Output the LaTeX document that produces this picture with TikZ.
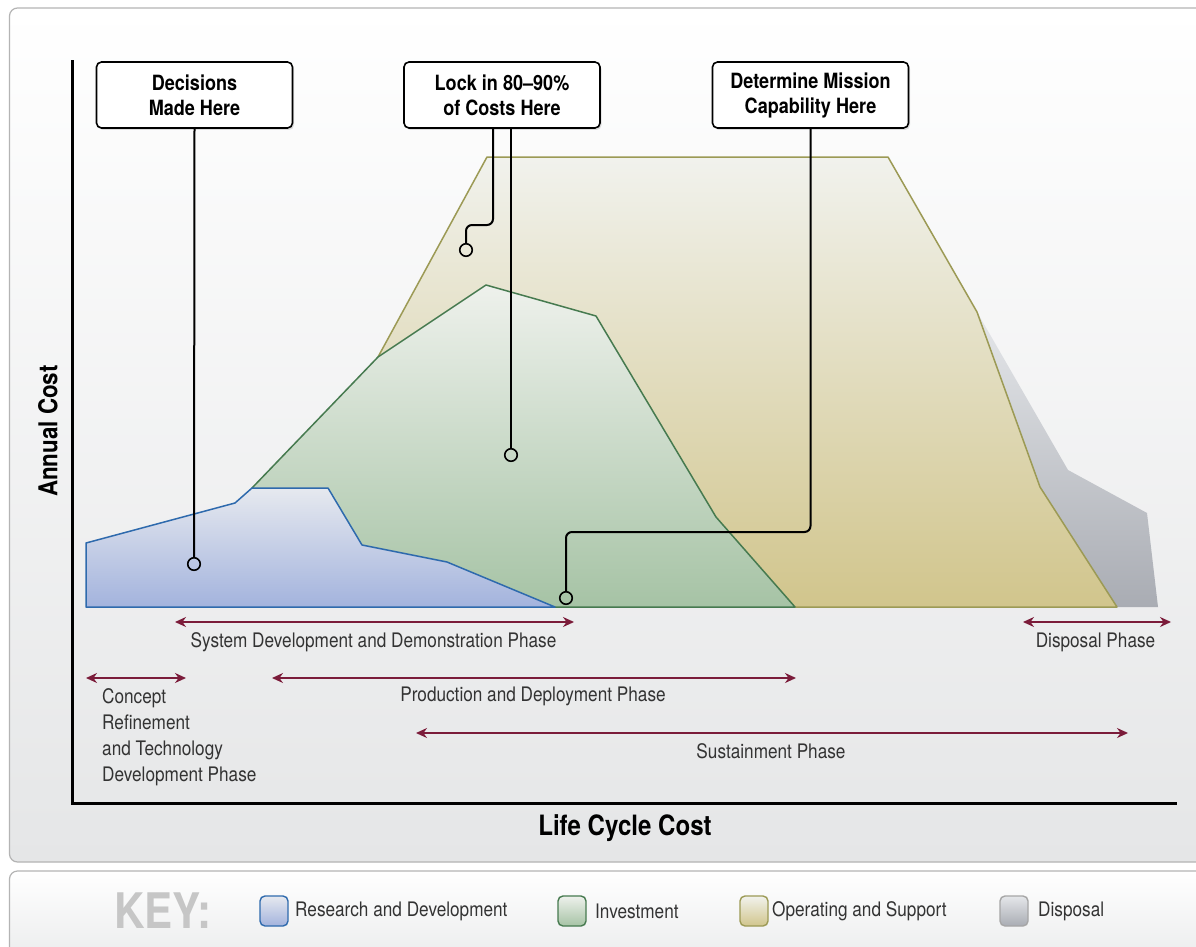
\documentclass[tikz,border=0pt]{standalone}
\usepackage{fontspec}
\setmainfont{TeX Gyre Heros}[FakeStretch=0.86]
\usetikzlibrary{arrows.meta,shadows}
\definecolor{panelline}{HTML}{B4B4B4}
\definecolor{panelmid}{HTML}{F9FAFA}
\definecolor{panelbot}{HTML}{E5E6E7}
\definecolor{bluetop}{HTML}{E6E9EF}
\definecolor{bluebot}{HTML}{A3B3DD}
\definecolor{blueline}{HTML}{2E6AAD}
\definecolor{greentop}{HTML}{EEF1EC}
\definecolor{greenbot}{HTML}{A6C3A5}
\definecolor{greenline}{HTML}{467A4F}
\definecolor{goldtop}{HTML}{F1F2ED}
\definecolor{goldbot}{HTML}{D1C58C}
\definecolor{goldline}{HTML}{9C9A55}
\definecolor{greytop}{HTML}{E5E7EA}
\definecolor{greybot}{HTML}{A9ACB3}
\definecolor{maroon}{HTML}{7B1C3A}
\definecolor{txt}{HTML}{333333}
\definecolor{keygrey}{HTML}{C6C6C6}
\begin{document}
\begin{tikzpicture}[x=1pt,y=-1pt,
  callout/.style={draw=black, line width=1.6pt, rounded corners=5pt, fill=white,
    minimum width=196pt, minimum height=66pt, align=center, inner sep=0pt,
    font=\bfseries\fontsize{21}{25}\selectfont,
    drop shadow={opacity=0.25, shadow xshift=1.5pt, shadow yshift=-2pt}},
  conn/.style={draw=black, line width=2pt, rounded corners=6pt},
  pin/.style={circle, draw=black, line width=1.6pt, minimum size=12.5pt, inner sep=0pt},
  phase/.style={draw=maroon, line width=1.6pt,
    {Stealth[length=11pt,width=10pt]}-{Stealth[length=11pt,width=10pt]}},
  lbl/.style={text=txt, inner sep=0pt, font=\fontsize{20}{26}\selectfont},
  axis/.style={draw=black, line width=3pt},
  swatch/.style={rounded corners=5pt, line width=1.4pt, minimum width=28pt, minimum height=30pt, inner sep=0pt},
  keylbl/.style={text=txt, inner sep=0pt, anchor=west, font=\fontsize{20}{24}\selectfont}
]
\clip (0,0) rectangle (1196,947);
\fill[white] (0,0) rectangle (1196,947);
% panels
\path[draw=panelline, line width=1.2pt, rounded corners=8pt, top color=white, middle color=panelmid, bottom color=panelbot]
  (9.5,8) rectangle (1220,862);
\path[draw=panelline, line width=1.2pt, rounded corners=8pt, top color=white, bottom color=panelbot!80!white]
  (9.5,871) rectangle (1220,965);

% areas
\path[top color=greytop, bottom color=greybot]
  (977,312) -- (1068,470) -- (1147,513) -- (1158,607) -- (1000,607) -- cycle;
\path[top color=goldtop, bottom color=goldbot]
  (378,357) -- (487,157) -- (888,157) -- (977,312) -- (1040,487) -- (1117,607) -- (378,607) -- cycle;
\draw[goldline, line width=1.5pt, line join=round]
  (378,357) -- (487,157) -- (888,157) -- (977,312) -- (1040,487) -- (1117,607) -- (795,607);
\path[top color=greentop, bottom color=greenbot]
  (252,488) -- (378,357) -- (486,285) -- (596,316) -- (716,517) -- (795,607) -- (252,607) -- cycle;
\draw[greenline, line width=1.5pt, line join=round]
  (252,488) -- (378,357) -- (486,285) -- (596,316) -- (716,517) -- (795,607) -- (555,607);
\path[top color=bluetop, bottom color=bluebot, draw=blueline, line width=1.5pt, line join=round]
  (86,607) -- (86,543) -- (235,503) -- (252,488) -- (328,488) -- (362,545) -- (447,562) -- (555,607) -- cycle;

% axes
\coordinate (ytop) at (72,62);
\coordinate (origin) at (72,803);
\coordinate (xend) at (1175,803);
\draw[axis, line cap=rect] (ytop) -- (origin) -- (xend);
\node[rotate=90, font=\bfseries\fontsize{26}{30}\selectfont, inner sep=0pt] (ylab) at (48,431) {Annual Cost};
\node[font=\bfseries\fontsize{28}{32}\selectfont, inner sep=0pt] (xlab) at (625,828) {Life Cycle Cost};

% callouts
\node[callout] (b1) at (194.5,95) {Decisions\\Made Here};
\node[callout] (b2) at (502,95) {Lock in 80--90\%\\of Costs Here};
\node[callout] (b3) at (810.5,95) {Determine Mission\\Capability Here};

\node[pin] (c1) at (194,564) {};
\node[pin] (c2a) at (466,250) {};
\node[pin] (c2b) at (511,455) {};
\node[pin] (c3) at (566,598) {};
\coordinate (k2) at (466,225);
\coordinate (k3) at (566,532);

\draw[conn] (b1.south) -- (c1.north);
\draw[conn] ([xshift=-9pt]b2.south) |- (k2) -- (c2a.north);
\draw[conn] ([xshift=9pt]b2.south) -- (c2b.north);
\draw[conn] (b3.south) |- (k3) -- (c3.north);

% phases
\coordinate (sdA) at (175,622); \coordinate (sdB) at (574,622);
\coordinate (crA) at (86,678); \coordinate (crB) at (186,678);
\coordinate (pdA) at (272,678); \coordinate (pdB) at (796,678);
\coordinate (suA) at (416,733); \coordinate (suB) at (1128,733);
\coordinate (dpA) at (1023,622); \coordinate (dpB) at (1171,622);
\draw[phase] (sdA) -- (sdB);
\draw[phase] (crA) -- (crB);
\draw[phase] (pdA) -- (pdB);
\draw[phase] (suA) -- (suB);
\draw[phase] (dpA) -- (dpB);
\node[lbl] (sdl) at (373.5,642) {System Development and Demonstration Phase};
\node[lbl, anchor=north west, align=left] (crl) at (102,688) {Concept\\Refinement\\and Technology\\Development Phase};
\node[lbl] (pdl) at (533,696) {Production and Deployment Phase};
\node[lbl] (sul) at (771,751) {Sustainment Phase};
\node[lbl] (dpl) at (1095.5,642) {Disposal Phase};

% key
\node[text=keygrey, font=\bfseries\fontsize{49}{50}\selectfont, inner sep=0pt] (key) at (163,911) {KEY:};
\node[swatch, draw=blueline, top color=bluetop, bottom color=bluebot] (s1) at (274,911) {};
\node[keylbl] (l1) at (295,911) {Research and Development};
\node[swatch, draw=greenline, top color=greentop, bottom color=greenbot] (s2) at (572,911) {};
\node[keylbl] (l2) at (595,911) {Investment};
\node[swatch, draw=goldline, top color=goldtop, bottom color=goldbot] (s3) at (754,911) {};
\node[keylbl] (l3) at (772,911) {Operating and Support};
\node[swatch, draw=gray!70, top color=greytop, bottom color=greybot] (s4) at (1014,911) {};
\node[keylbl] (l4) at (1038,911) {Disposal};
\end{tikzpicture}
\end{document}
